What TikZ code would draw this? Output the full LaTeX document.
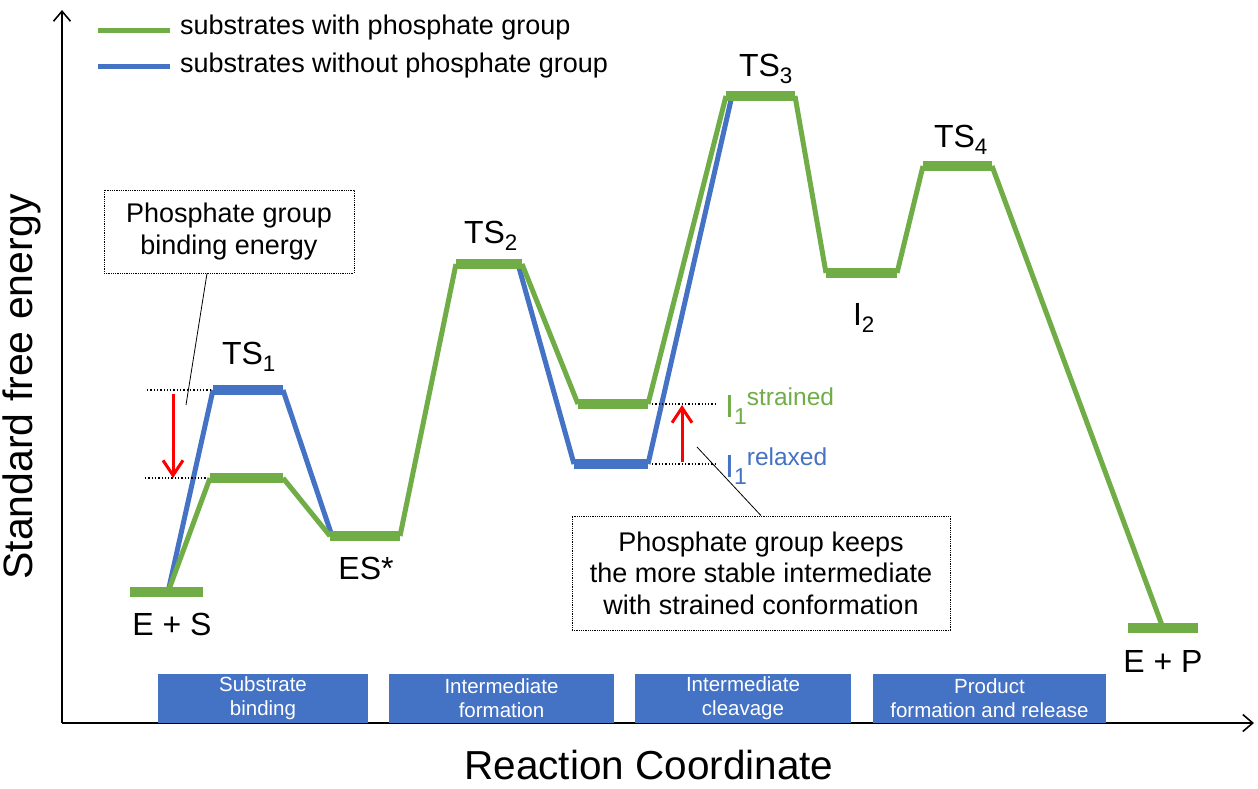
\documentclass[tikz,border=0pt]{standalone}
\usepackage{fontspec}
\setmainfont{Liberation Sans}
\usetikzlibrary{arrows.meta,calc}
\definecolor{pgreen}{HTML}{70AD47}
\definecolor{pblue}{HTML}{4472C4}
\newcommand{\mysub}[1]{{\fontsize{23}{23}\selectfont\raisebox{-7pt}{#1}}}
\newcommand{\mysup}[1]{{\fontsize{24.5}{24.5}\selectfont\raisebox{12pt}{#1}}}
\begin{document}
\begin{tikzpicture}[x=1pt,y=-1pt,
  lvl/.style={line width=10pt},
  slp/.style={line width=5pt},
  lbl/.style={font=\fontsize{32}{34}\selectfont, inner sep=0pt},
  leg/.style={font=\fontsize{27}{30}\selectfont, anchor=west, inner sep=0pt},
  dotl/.style={dotted, line width=1.3pt},
  redarr/.style={red, line width=3pt, -{Straight Barb[length=15pt,width=20pt,line width=3pt]}},
  note/.style={draw, densely dotted, line width=0.8pt, align=center, font=\fontsize{27}{31.5}\selectfont, inner sep=0pt},
  phase/.style={fill=pblue, text=white, align=center, font=\fontsize{20.5}{24}\selectfont, inner sep=0pt, minimum height=49pt},
  axis/.style={line width=1.8pt, -{Straight Barb[length=10pt,width=17pt,line width=1.6pt]}},
  lead/.style={line width=0.8pt}
]
\useasboundingbox (0,0) rectangle (1258,788);
\fill[white] (0,0) rectangle (1258,788);

% axes
\coordinate (O) at (62,723);
\coordinate (Ytop) at (62,10);
\coordinate (Xend) at (1254,723);
\draw[axis] (O) -- (Ytop);
\draw[axis] (O) -- (Xend);
\node[rotate=90, font=\fontsize{41}{44}\selectfont, inner sep=0pt] (ylab) at (22,387) {Standard free energy};
\node[font=\fontsize{40.5}{44}\selectfont, inner sep=0pt] (xlab) at (649,765) {Reaction Coordinate};

% legend
\coordinate (lg1a) at (98,30); \coordinate (lg1b) at (170,30);
\coordinate (lg2a) at (98,66); \coordinate (lg2b) at (170,66);
\draw[pgreen, slp] (lg1a) -- (lg1b);
\draw[pblue, slp] (lg2a) -- (lg2b);
\node[leg] (legt1) at (180,28) {substrates with phosphate group};
\node[leg] (legt2) at (180,66) {substrates without phosphate group};

% phase boxes
\node[phase, minimum width=210pt] (ph1) at (263,698.5) {Substrate\\binding};
\node[phase, minimum width=225pt] (ph2) at (501.5,698.5) {Intermediate\\formation};
\node[phase, minimum width=216pt] (ph3) at (743,698.5) {Intermediate\\cleavage};
\node[phase, minimum width=233pt] (ph4) at (989.5,698.5) {Product\\formation and release};

% level coordinates
\coordinate (ESa) at (130,592); \coordinate (ESm) at (168,592); \coordinate (ESb) at (203,592);
\coordinate (T1ga) at (210,478); \coordinate (T1gb) at (283,478);
\coordinate (T1ba) at (213,390); \coordinate (T1bb) at (283,390);
\coordinate (ESSa) at (330,536); \coordinate (ESSb) at (400,536);
\coordinate (T2a) at (456,264); \coordinate (T2b) at (522,264); \coordinate (T2bb) at (518,264);
\coordinate (I1ga) at (578,404); \coordinate (I1gb) at (648,404);
\coordinate (I1ba) at (574,464); \coordinate (I1bb) at (648,464);
\coordinate (T3a) at (726,96); \coordinate (T3b) at (795,96); \coordinate (T3c) at (731,100);
\coordinate (I2a) at (826,273); \coordinate (I2b) at (897,273);
\coordinate (T4a) at (923,166); \coordinate (T4b) at (992,166);
\coordinate (EPa) at (1128,628); \coordinate (EPm) at (1163,628); \coordinate (EPb) at (1198,628);
\coordinate (ESSb1) at (332,536);

% blue profile
\draw[pblue, slp] (ESm) -- (T1ba);
\draw[pblue, slp] (T1bb) -- (ESSb1);
\draw[pblue, lvl] (T1ba) -- (T1bb);
\draw[pblue, slp] (T2bb) -- (I1ba);
\draw[pblue, slp] (I1bb) -- (T3c);
\draw[pblue, lvl] (I1ba) -- (I1bb);

% green profile
\draw[pgreen, lvl] (ESa) -- (ESb);
\draw[pgreen, slp] (ESm) -- (T1ga);
\draw[pgreen, lvl] (T1ga) -- (T1gb);
\draw[pgreen, slp] (T1gb) -- (ESSa);
\draw[pgreen, lvl] (ESSa) -- (ESSb);
\draw[pgreen, slp] (ESSb) -- (T2a);
\draw[pgreen, lvl] (T2a) -- (T2b);
\draw[pgreen, slp] (T2b) -- (I1ga);
\draw[pgreen, lvl] (I1ga) -- (I1gb);
\draw[pgreen, slp] (I1gb) -- (T3a);
\draw[pgreen, lvl] (T3a) -- (T3b);
\draw[pgreen, slp] (T3b) -- (I2a);
\draw[pgreen, lvl] (I2a) -- (I2b);
\draw[pgreen, slp] (I2b) -- (T4a);
\draw[pgreen, lvl] (T4a) -- (T4b);
\draw[pgreen, slp] (T4b) -- (EPm);
\draw[pgreen, lvl] (EPa) -- (EPb);

% dotted guides and red arrows
\coordinate (d1a) at (147,390); \coordinate (d1b) at (211,390);
\coordinate (d2a) at (145,478); \coordinate (d2b) at (206,478);
\draw[dotl] (d1a) -- (d1b);
\draw[dotl] (d2a) -- (d2b);
\coordinate (r1a) at (173,394); \coordinate (r1b) at (173,478);
\draw[redarr] (r1a) -- (r1b);
\coordinate (d3a) at (652,404); \coordinate (d3b) at (716,404);
\coordinate (d4a) at (652,464); \coordinate (d4b) at (716,464);
\draw[dotl] (d3a) -- (d3b);
\draw[dotl] (d4a) -- (d4b);
\coordinate (r2a) at (682,462); \coordinate (r2b) at (682,405);
\draw[redarr] (r2a) -- (r2b);

% labels
\node[lbl] (lES) at (172,624) {E + S};
\node[lbl] (lTS1) at (249,357) {TS\textsubscript{1}};
\node[lbl] (lESS) at (366,568) {ES*};
\node[lbl] (lTS2) at (491,236) {TS\textsubscript{2}};
\node[lbl] (lTS3) at (766,69) {TS\textsubscript{3}};
\node[lbl] (lI2) at (864,318) {I\textsubscript{2}};
\node[lbl] (lTS4) at (961,140) {TS\textsubscript{4}};
\node[lbl] (lEP) at (1163,661) {E + P};
\node[lbl, anchor=base west, text=pgreen] (lI1s) at (725,417) {I\mysub{1}\mysup{strained}};
\node[lbl, anchor=base west, text=pblue] (lI1r) at (725,477) {I\mysub{1}\mysup{relaxed}};

% notes
\node[note, minimum width=250pt, minimum height=83pt] (nb1) at (229,231.5) {Phosphate group\\binding energy};
\coordinate (lead1) at (186,405);
\draw[lead] ($(nb1.south)+(-22,0)$) -- (lead1);
\node[note, minimum width=378pt, minimum height=114pt] (nb2) at (761,573) {Phosphate group keeps\\the more stable intermediate\\with strained conformation};
\coordinate (lead2) at (697,447);
\draw[lead] (nb2.north) -- (lead2);
\end{tikzpicture}
\end{document}
